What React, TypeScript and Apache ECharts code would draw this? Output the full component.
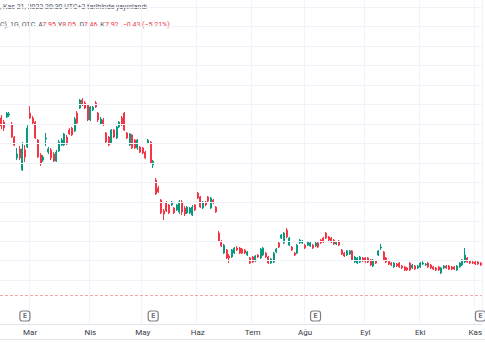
import React, { useEffect, useRef } from "react";
import * as echarts from "echarts";

// ---- data ----
const startDate = "2022-02-11";
const endDate = "2022-11-03";
const holidays = ["2022-02-21", "2022-04-15", "2022-05-30", "2022-06-20", "2022-07-04", "2022-09-05"];
const monthNames = ["Oca", "Şub", "Mar", "Nis", "May", "Haz", "Tem", "Ağu", "Eyl", "Eki", "Kas", "Ara"];

const openPrices = [
  17.31, 17.10, 17.36, 17.46, 17.00, 16.33, 15.26, 15.72, 14.64, 15.67,
  15.82, 17.56, 17.31, 17.10, 16.18, 15.41, 15.15, 16.23, 15.56, 15.67,
  15.46, 15.10, 15.62, 15.92, 15.92, 16.33, 16.69, 16.79, 16.64, 17.56,
  17.82, 18.23, 18.08, 17.97, 17.21, 17.72, 18.08, 17.56, 17.00, 17.21,
  16.54, 16.33, 16.03, 16.69, 16.28, 16.85, 17.31, 17.56, 16.54, 15.92,
  16.44, 16.18, 15.77, 15.82, 15.77, 15.56, 16.03, 16.08, 14.90, 14.13,
  13.72, 13.10, 12.54, 12.95, 12.85, 12.85, 12.69, 12.59, 12.49, 13.00,
  12.69, 12.44, 12.44, 12.33, 12.85, 13.46, 13.26, 12.69, 13.00, 13.26,
  12.69, 13.10, 12.74, 11.41, 10.95, 10.38, 10.54, 10.23, 10.18, 10.38,
  10.64, 10.64, 10.59, 10.54, 10.28, 10.13, 10.18, 9.97, 10.28, 10.13,
  10.28, 10.38, 10.18, 9.87, 9.92, 10.44, 10.90, 11.15, 10.90, 11.56,
  10.79, 10.69, 10.38, 10.38, 10.90, 10.90, 10.79, 10.79, 10.74, 10.79,
  10.74, 10.90, 11.05, 11.15, 11.41, 11.21, 11.15, 11.05, 10.85, 11.00,
  10.54, 10.38, 10.28, 10.33, 10.49, 9.92, 9.87, 9.92, 10.13, 10.13,
  10.13, 10.03, 9.72, 9.97, 10.28, 10.64, 10.44, 10.13, 9.97, 9.87,
  9.67, 9.82, 9.87, 9.72, 9.67, 9.62, 9.87, 9.62, 9.72, 9.62,
  9.67, 9.82, 9.77, 9.87, 9.77, 9.67, 9.62, 9.67, 9.36, 9.62,
  9.72, 9.72, 9.67, 9.67, 9.51, 9.67, 9.77, 9.92, 10.13, 9.97,
  9.92, 9.92, 9.92, 9.87,
];
const closePrices = [
  16.90, 16.79, 17.56, 17.51, 16.33, 15.92, 15.46, 15.26, 15.72, 15.31,
  16.79, 17.31, 17.05, 16.28, 15.31, 14.95, 15.31, 16.28, 15.72, 15.26,
  15.10, 15.56, 16.08, 16.18, 16.49, 15.97, 16.49, 16.44, 17.26, 17.05,
  18.23, 18.03, 17.82, 17.21, 17.87, 17.87, 17.87, 17.21, 17.26, 16.95,
  16.08, 15.92, 16.69, 16.33, 16.85, 17.10, 16.95, 16.69, 16.28, 16.49,
  15.77, 15.77, 16.18, 15.56, 15.51, 15.26, 16.18, 15.00, 15.10, 13.41,
  13.51, 12.44, 12.38, 12.54, 12.44, 13.00, 12.44, 12.85, 13.00, 12.49,
  12.38, 12.74, 12.69, 12.74, 12.59, 13.21, 12.74, 13.00, 12.85, 13.05,
  13.21, 12.95, 12.49, 11.00, 10.74, 10.79, 10.13, 10.13, 10.54, 10.64,
  10.54, 10.38, 10.38, 10.38, 10.44, 9.87, 9.92, 10.23, 10.18, 10.59,
  10.64, 10.18, 9.87, 10.08, 10.38, 10.59, 10.69, 11.31, 11.41, 11.21,
  11.15, 10.54, 10.28, 10.79, 11.05, 11.00, 10.64, 10.95, 10.90, 10.64,
  10.90, 10.69, 10.90, 10.95, 11.15, 11.05, 10.95, 10.85, 10.95, 10.79,
  10.33, 10.23, 10.49, 10.49, 10.03, 10.18, 10.13, 10.18, 9.97, 9.97,
  9.92, 9.77, 10.03, 9.87, 10.49, 10.69, 10.03, 9.92, 9.82, 9.77,
  9.87, 9.72, 9.67, 9.62, 9.51, 9.51, 9.51, 9.77, 9.56, 9.72,
  9.87, 9.87, 9.82, 9.67, 9.62, 9.56, 9.51, 9.51, 9.62, 9.72,
  9.62, 9.56, 9.56, 9.56, 9.72, 9.87, 10.03, 10.28, 9.92, 9.87,
  9.87, 9.82, 9.82, 9.77,
];
const lowPrices = [
  16.74, 16.64, 17.31, 17.36, 16.28, 15.87, 15.15, 15.15, 14.59, 15.05,
  15.77, 17.26, 17.00, 16.23, 15.26, 14.85, 15.05, 15.87, 15.46, 15.15,
  15.05, 15.05, 15.56, 15.87, 15.87, 15.92, 16.44, 16.38, 16.59, 16.95,
  17.77, 17.92, 17.77, 17.15, 17.15, 17.67, 17.82, 17.10, 16.95, 16.90,
  16.03, 15.87, 15.97, 16.28, 16.23, 16.79, 16.90, 16.64, 16.23, 15.87,
  15.72, 15.72, 15.67, 15.51, 15.46, 15.21, 15.97, 14.95, 14.74, 13.36,
  13.46, 12.38, 12.08, 12.49, 12.38, 12.79, 12.38, 12.54, 12.38, 12.33,
  12.28, 12.38, 12.38, 12.28, 12.54, 13.15, 12.69, 12.64, 12.79, 13.00,
  12.64, 12.90, 12.44, 10.95, 10.69, 10.33, 10.08, 9.87, 10.13, 10.33,
  10.49, 10.33, 10.33, 10.33, 10.23, 9.82, 9.87, 9.92, 10.13, 10.08,
  10.23, 10.13, 9.82, 9.82, 9.87, 10.38, 10.64, 11.10, 10.85, 11.15,
  10.74, 10.49, 10.23, 10.33, 10.85, 10.85, 10.59, 10.74, 10.69, 10.59,
  10.69, 10.64, 10.85, 10.90, 11.10, 11.00, 10.90, 10.79, 10.79, 10.74,
  10.28, 10.18, 10.23, 10.28, 9.97, 9.87, 9.82, 9.87, 9.92, 9.87,
  9.87, 9.72, 9.67, 9.82, 10.23, 10.54, 9.97, 9.87, 9.77, 9.72,
  9.62, 9.67, 9.62, 9.56, 9.46, 9.46, 9.46, 9.56, 9.51, 9.56,
  9.62, 9.77, 9.72, 9.62, 9.56, 9.51, 9.46, 9.46, 9.31, 9.56,
  9.56, 9.51, 9.51, 9.51, 9.46, 9.62, 9.72, 9.87, 9.87, 9.82,
  9.82, 9.77, 9.77, 9.72,
];
const highPrices = [
  17.46, 17.21, 17.62, 17.62, 17.10, 16.38, 15.77, 15.87, 16.08, 15.92,
  16.95, 17.92, 17.41, 17.15, 16.23, 15.51, 15.41, 16.54, 15.82, 15.77,
  15.56, 15.67, 16.18, 16.28, 16.54, 16.44, 16.79, 16.85, 17.36, 17.67,
  18.28, 18.33, 18.18, 18.03, 17.92, 17.92, 18.18, 17.62, 17.36, 17.31,
  16.59, 16.38, 16.74, 16.74, 16.90, 17.15, 17.41, 17.62, 16.59, 16.54,
  16.49, 16.23, 16.23, 15.87, 15.82, 15.62, 16.23, 16.13, 15.15, 14.23,
  13.82, 13.15, 12.64, 13.05, 12.90, 13.05, 12.74, 12.90, 13.10, 13.10,
  12.79, 12.79, 12.74, 12.85, 12.90, 13.51, 13.31, 13.05, 13.05, 13.31,
  13.26, 13.15, 12.79, 11.51, 11.05, 10.85, 10.59, 10.33, 10.59, 10.69,
  10.74, 10.69, 10.64, 10.59, 10.49, 10.18, 10.23, 10.28, 10.33, 10.64,
  10.69, 10.44, 10.23, 10.13, 10.44, 10.64, 10.95, 11.36, 11.46, 11.67,
  11.21, 10.74, 10.44, 10.85, 11.10, 11.05, 10.85, 11.00, 10.95, 10.85,
  10.95, 10.95, 11.10, 11.21, 11.46, 11.26, 11.21, 11.10, 11.00, 11.05,
  10.59, 10.44, 10.54, 10.54, 10.54, 10.23, 10.18, 10.23, 10.18, 10.18,
  10.18, 10.08, 10.08, 10.03, 10.54, 10.85, 10.49, 10.18, 10.03, 9.92,
  9.92, 9.87, 9.92, 9.77, 9.72, 9.67, 9.92, 9.82, 9.77, 9.77,
  9.92, 9.97, 9.87, 9.92, 9.82, 9.72, 9.67, 9.72, 9.67, 9.77,
  9.77, 9.77, 9.72, 9.72, 9.77, 9.92, 10.08, 10.64, 10.18, 10.03,
  9.97, 9.97, 9.97, 9.92,
];
const gridPrices = [9, 10, 11, 12, 13, 14, 15, 16, 17, 18, 19, 20, 21, 22, 23];
const lastPriceLine = 8.23;
const earningsDates = ["2022-02-25", "2022-05-06", "2022-08-05", "2022-11-03"];
const legendKeys = ["A", "Y", "D", "K"];
const legendValues = ["7.95", "8.05", "7.46", "7.92"];
const legendChange = "−0.43 (−5.21%)";

// ---- helpers ----
function tradingDays(): string[] {
  const out: string[] = [];
  const d = new Date(startDate + "T00:00:00Z");
  const end = new Date(endDate + "T00:00:00Z");
  while (d <= end) {
    const wd = d.getUTCDay();
    const s = d.toISOString().slice(0, 10);
    if (wd !== 0 && wd !== 6 && holidays.indexOf(s) < 0) out.push(s);
    d.setUTCDate(d.getUTCDate() + 1);
  }
  return out;
}

const UP = "#089981";
const DOWN = "#f23645";
const GRID = "#f0f3fa";

export default function App() {
  const ref = useRef<HTMLDivElement>(null);
  useEffect(() => {
    if (!ref.current) return;
    const chart = echarts.init(ref.current, undefined, { renderer: "svg" });
    const dates = tradingDays();
    const candles = dates.map((_, i) => [openPrices[i], closePrices[i], lowPrices[i], highPrices[i]]);
    const isMonthStart = (i: number) => i > 0 && dates[i].slice(5, 7) !== dates[i - 1].slice(5, 7);
    const bandW = 2.65;
    const font = "Roboto, 'Noto Sans', sans-serif";
    const fs = 7.0;
    const textColor = "#50535e";

    // legend row layout (left edges in px)
    const keyX = [38.3, 58, 79.5, 100.2];
    const valX = [42.2, 62.3, 83.8, 104.9];
    const legendY = 21.5;
    const legendTexts: any[] = [
      { type: "text", left: 0, top: legendY, style: { text: "C), 1G, OTC", fill: textColor, fontSize: fs, fontFamily: font } },
    ];
    legendKeys.forEach((k, i) => {
      legendTexts.push({ type: "text", left: keyX[i], top: legendY, style: { text: k, fill: textColor, fontSize: fs, fontFamily: font } });
      legendTexts.push({ type: "text", left: valX[i], top: legendY, style: { text: legendValues[i], fill: DOWN, fontSize: fs, fontFamily: font } });
    });
    legendTexts.push({ type: "text", left: 122.7, top: legendY, style: { text: legendChange, fill: DOWN, fontSize: fs, fontFamily: font } });

    chart.setOption({
      animation: false,
      backgroundColor: "#ffffff",
      grid: { left: -1, right: 485 - (-1 + bandW * dates.length), top: 0, bottom: 36, containLabel: false },
      xAxis: {
        type: "category",
        data: dates,
        boundaryGap: true,
        axisLine: { show: true, lineStyle: { color: "#e0e3eb", width: 1 } },
        axisTick: { show: false },
        axisLabel: {
          interval: (i: number) => isMonthStart(i),
          formatter: (v: string) => monthNames[parseInt(v.slice(5, 7), 10) - 1],
          color: "#363a45",
          fontSize: 8,
          fontFamily: font,
          margin: 4,
        },
        splitLine: { show: true, interval: (i: number) => isMonthStart(i), lineStyle: { color: GRID, width: 1 } },
      },
      yAxis: {
        type: "value",
        min: 6.7436,
        max: 23.359,
        show: true,
        axisLine: { show: false },
        axisTick: { show: false },
        axisLabel: { show: false },
        splitLine: { show: false },
      },
      series: [
        {
          type: "line",
          data: [],
          z: 1,
          silent: true,
          markLine: {
            silent: true,
            symbol: "none",
            label: { show: false },
            lineStyle: { color: GRID, type: "solid", width: 1 },
            data: gridPrices.map((p) => ({ yAxis: p })),
          },
        },
        {
          type: "candlestick",
          data: candles,
          z: 3,
          barWidth: 1.5,
          itemStyle: { color: UP, color0: DOWN, borderColor: UP, borderColor0: DOWN, borderWidth: 1 },
        },
        {
          type: "line",
          data: [],
          z: 2,
          silent: true,
          markLine: {
            silent: true,
            symbol: "none",
            label: { show: false },
            lineStyle: { color: "#f5a3aa", type: [3, 2], width: 1, opacity: 1 },
            data: [{ yAxis: lastPriceLine }],
          },
        },
        {
          type: "scatter",
          z: 4,
          silent: true,
          symbol: "roundRect",
          symbolSize: [10, 10],
          itemStyle: { color: "#ffffff", borderColor: "#5d606b", borderWidth: 1.2 },
          label: { show: true, formatter: "E", color: "#434651", fontSize: 7, fontFamily: font, fontWeight: "bold", position: "inside" },
          data: earningsDates.map((d) => [d, 7.154]),
        },
      ],
      graphic: [
        { type: "line", shape: { x1: 0, y1: 339.5, x2: 485, y2: 339.5 }, style: { stroke: "#e0e3eb", lineWidth: 1 }, silent: true },
        {
          type: "text",
          left: 0,
          top: 3.5,
          style: { text: ", Kas 21, 2022 20:30 UTC+2 tarihinde yayınlandı", fill: textColor, fontSize: fs, fontFamily: font },
        },
        ...legendTexts,
      ],
    });
    return () => chart.dispose();
  }, []);
  return <div ref={ref} style={{ position: "absolute", left: 0, top: 0, width: 485, height: 360 }} />;
}
